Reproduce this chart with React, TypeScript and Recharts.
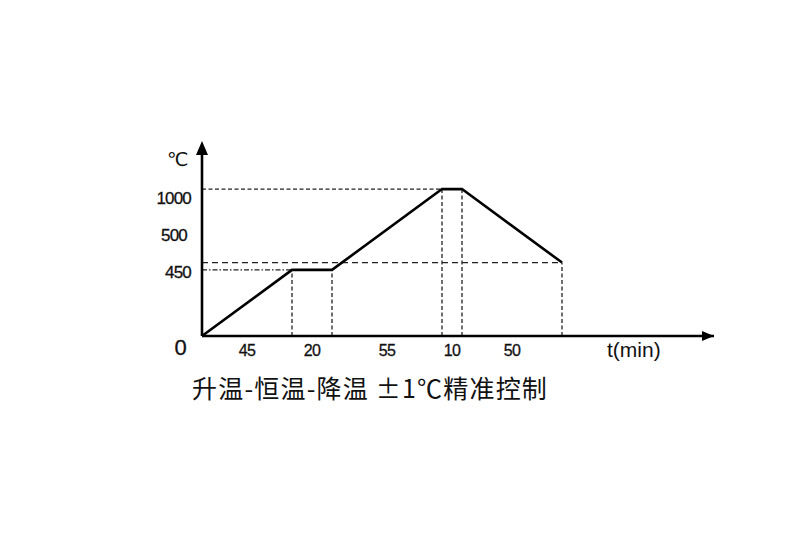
import React from 'react'
import { LineChart, Line, XAxis, YAxis, ReferenceLine, ReferenceDot } from 'recharts'

// Heating profile: cumulative minutes vs. temperature (°C)
const TIMES = [0, 45, 65, 120, 130, 180]
const TEMPS = [0, 450, 450, 1000, 1000, 500]
// Duration of each segment, shown under the time axis
const DURATIONS = [45, 20, 55, 10, 50]
const Y_TICKS = [0, 450, 500, 1000]

const X_MAX = 256
const Y_MAX = 1300

const data = TIMES.map((t, i) => ({ t, temp: TEMPS[i] }))
const midTicks = DURATIONS.map((_, i) => (TIMES[i] + TIMES[i + 1]) / 2)

// label nudges so close tick labels don't collide (as in the original drawing)
const Y_NUDGE: Record<number, { dx: number; dy: number; size: number }> = {
  0: { dx: -5, dy: 11, size: 22 },
  450: { dx: 0, dy: 3, size: 17 },
  500: { dx: -4, dy: -27, size: 17 },
  1000: { dx: 0, dy: 9, size: 17 },
}

const guideStroke = '#222'

const YTick = (props: any) => {
  const { x, y, payload } = props
  const n = Y_NUDGE[payload.value] || { dx: 0, dy: 0, size: 17 }
  return (
    <text
      x={x + n.dx}
      y={y + n.dy}
      textAnchor="end"
      dominantBaseline="central"
      fontSize={n.size}
      fontFamily="'Liberation Sans', Arial, sans-serif"
      letterSpacing={-0.8}
      stroke="#111"
      strokeWidth={0.3}
      fill="#111"
    >
      {payload.value}
    </text>
  )
}

const XTick = (props: any) => {
  const { x, y, index } = props
  return (
    <text
      x={x}
      y={y + 14}
      textAnchor="middle"
      dominantBaseline="central"
      fontSize={16}
      fontFamily="'Liberation Sans', Arial, sans-serif"
      letterSpacing={-0.6}
      stroke="#111"
      strokeWidth={0.3}
      fill="#111"
    >
      {DURATIONS[index]}
    </text>
  )
}

const UpArrow = (p: any) => (
  <polygon points={`${p.cx},${p.cy - 4} ${p.cx - 6},${p.cy + 10} ${p.cx + 6},${p.cy + 10}`} fill="#000" />
)
const RightArrow = (p: any) => (
  <polygon points={`${p.cx},${p.cy} ${p.cx - 12},${p.cy - 5} ${p.cx - 12},${p.cy + 5}`} fill="#000" />
)

const label: React.CSSProperties = {
  position: 'absolute',
  color: '#111',
  whiteSpace: 'nowrap',
  lineHeight: 1,
}

export default function App() {
  return (
    <div style={{ position: 'absolute', left: 0, top: 0, width: 804, height: 534, background: '#fff' }}>
      <LineChart width={804} height={534} data={data} margin={{ top: 145, right: 90, bottom: 168, left: 142 }}>
        <XAxis
          type="number"
          dataKey="t"
          domain={[0, X_MAX]}
          ticks={midTicks}
          interval={0}
          tickSize={0}
          tickMargin={0}
          tick={<XTick />}
          height={30}
          axisLine={{ stroke: '#000', strokeWidth: 2.6 }}
          tickLine={false}
        />
        <YAxis
          type="number"
          domain={[0, Y_MAX]}
          ticks={Y_TICKS}
          interval={0}
          tickSize={0}
          tickMargin={11}
          tick={<YTick />}
          width={60}
          axisLine={{ stroke: '#000', strokeWidth: 2.6 }}
          tickLine={false}
        />

        {/* horizontal guides */}
        <ReferenceLine
          segment={[{ x: 0, y: TEMPS[3] }, { x: TIMES[3], y: TEMPS[3] }]}
          stroke={guideStroke}
          strokeWidth={1.3}
          strokeDasharray="4 2.5"
        />
        <ReferenceLine
          segment={[{ x: 0, y: TEMPS[5] }, { x: TIMES[5], y: TEMPS[5] }]}
          stroke={guideStroke}
          strokeWidth={1.3}
          strokeDasharray="6 4"
        />
        <ReferenceLine
          segment={[{ x: 0, y: TEMPS[1] }, { x: TIMES[1], y: TEMPS[1] }]}
          stroke={guideStroke}
          strokeWidth={1.1}
          strokeDasharray="5 2 1.5 2"
        />
        {/* vertical guides */}
        {TIMES.slice(1).map((t, i) => (
          <ReferenceLine
            key={t}
            segment={[{ x: t, y: 0 }, { x: t, y: TEMPS[i + 1] }]}
            stroke={guideStroke}
            strokeWidth={1.3}
            strokeDasharray="4 2.5"
          />
        ))}

        <Line
          type="linear"
          dataKey="temp"
          stroke="#000"
          strokeWidth={2.6}
          dot={false}
          isAnimationActive={false}
        />

        <ReferenceDot x={0} y={Y_MAX} r={0} ifOverflow="visible" shape={UpArrow} />
        <ReferenceDot x={X_MAX} y={0} r={0} ifOverflow="visible" shape={RightArrow} />
      </LineChart>

      <div style={{ ...label, left: 167, top: 150, fontSize: 19, fontFamily: "'DejaVu Sans', sans-serif" }}>℃</div>
      <div style={{ ...label, left: 607, top: 339, fontSize: 21, fontFamily: "'Liberation Sans', Arial, sans-serif" }}>
        t(min)
      </div>
      <div
        style={{
          ...label,
          left: 192,
          top: 375,
          fontSize: 25,
          letterSpacing: 1.2,
          fontFamily: "'Noto Sans CJK SC', sans-serif",
        }}
      >
        升温-恒温-降温 ±1℃精准控制
      </div>
    </div>
  )
}
